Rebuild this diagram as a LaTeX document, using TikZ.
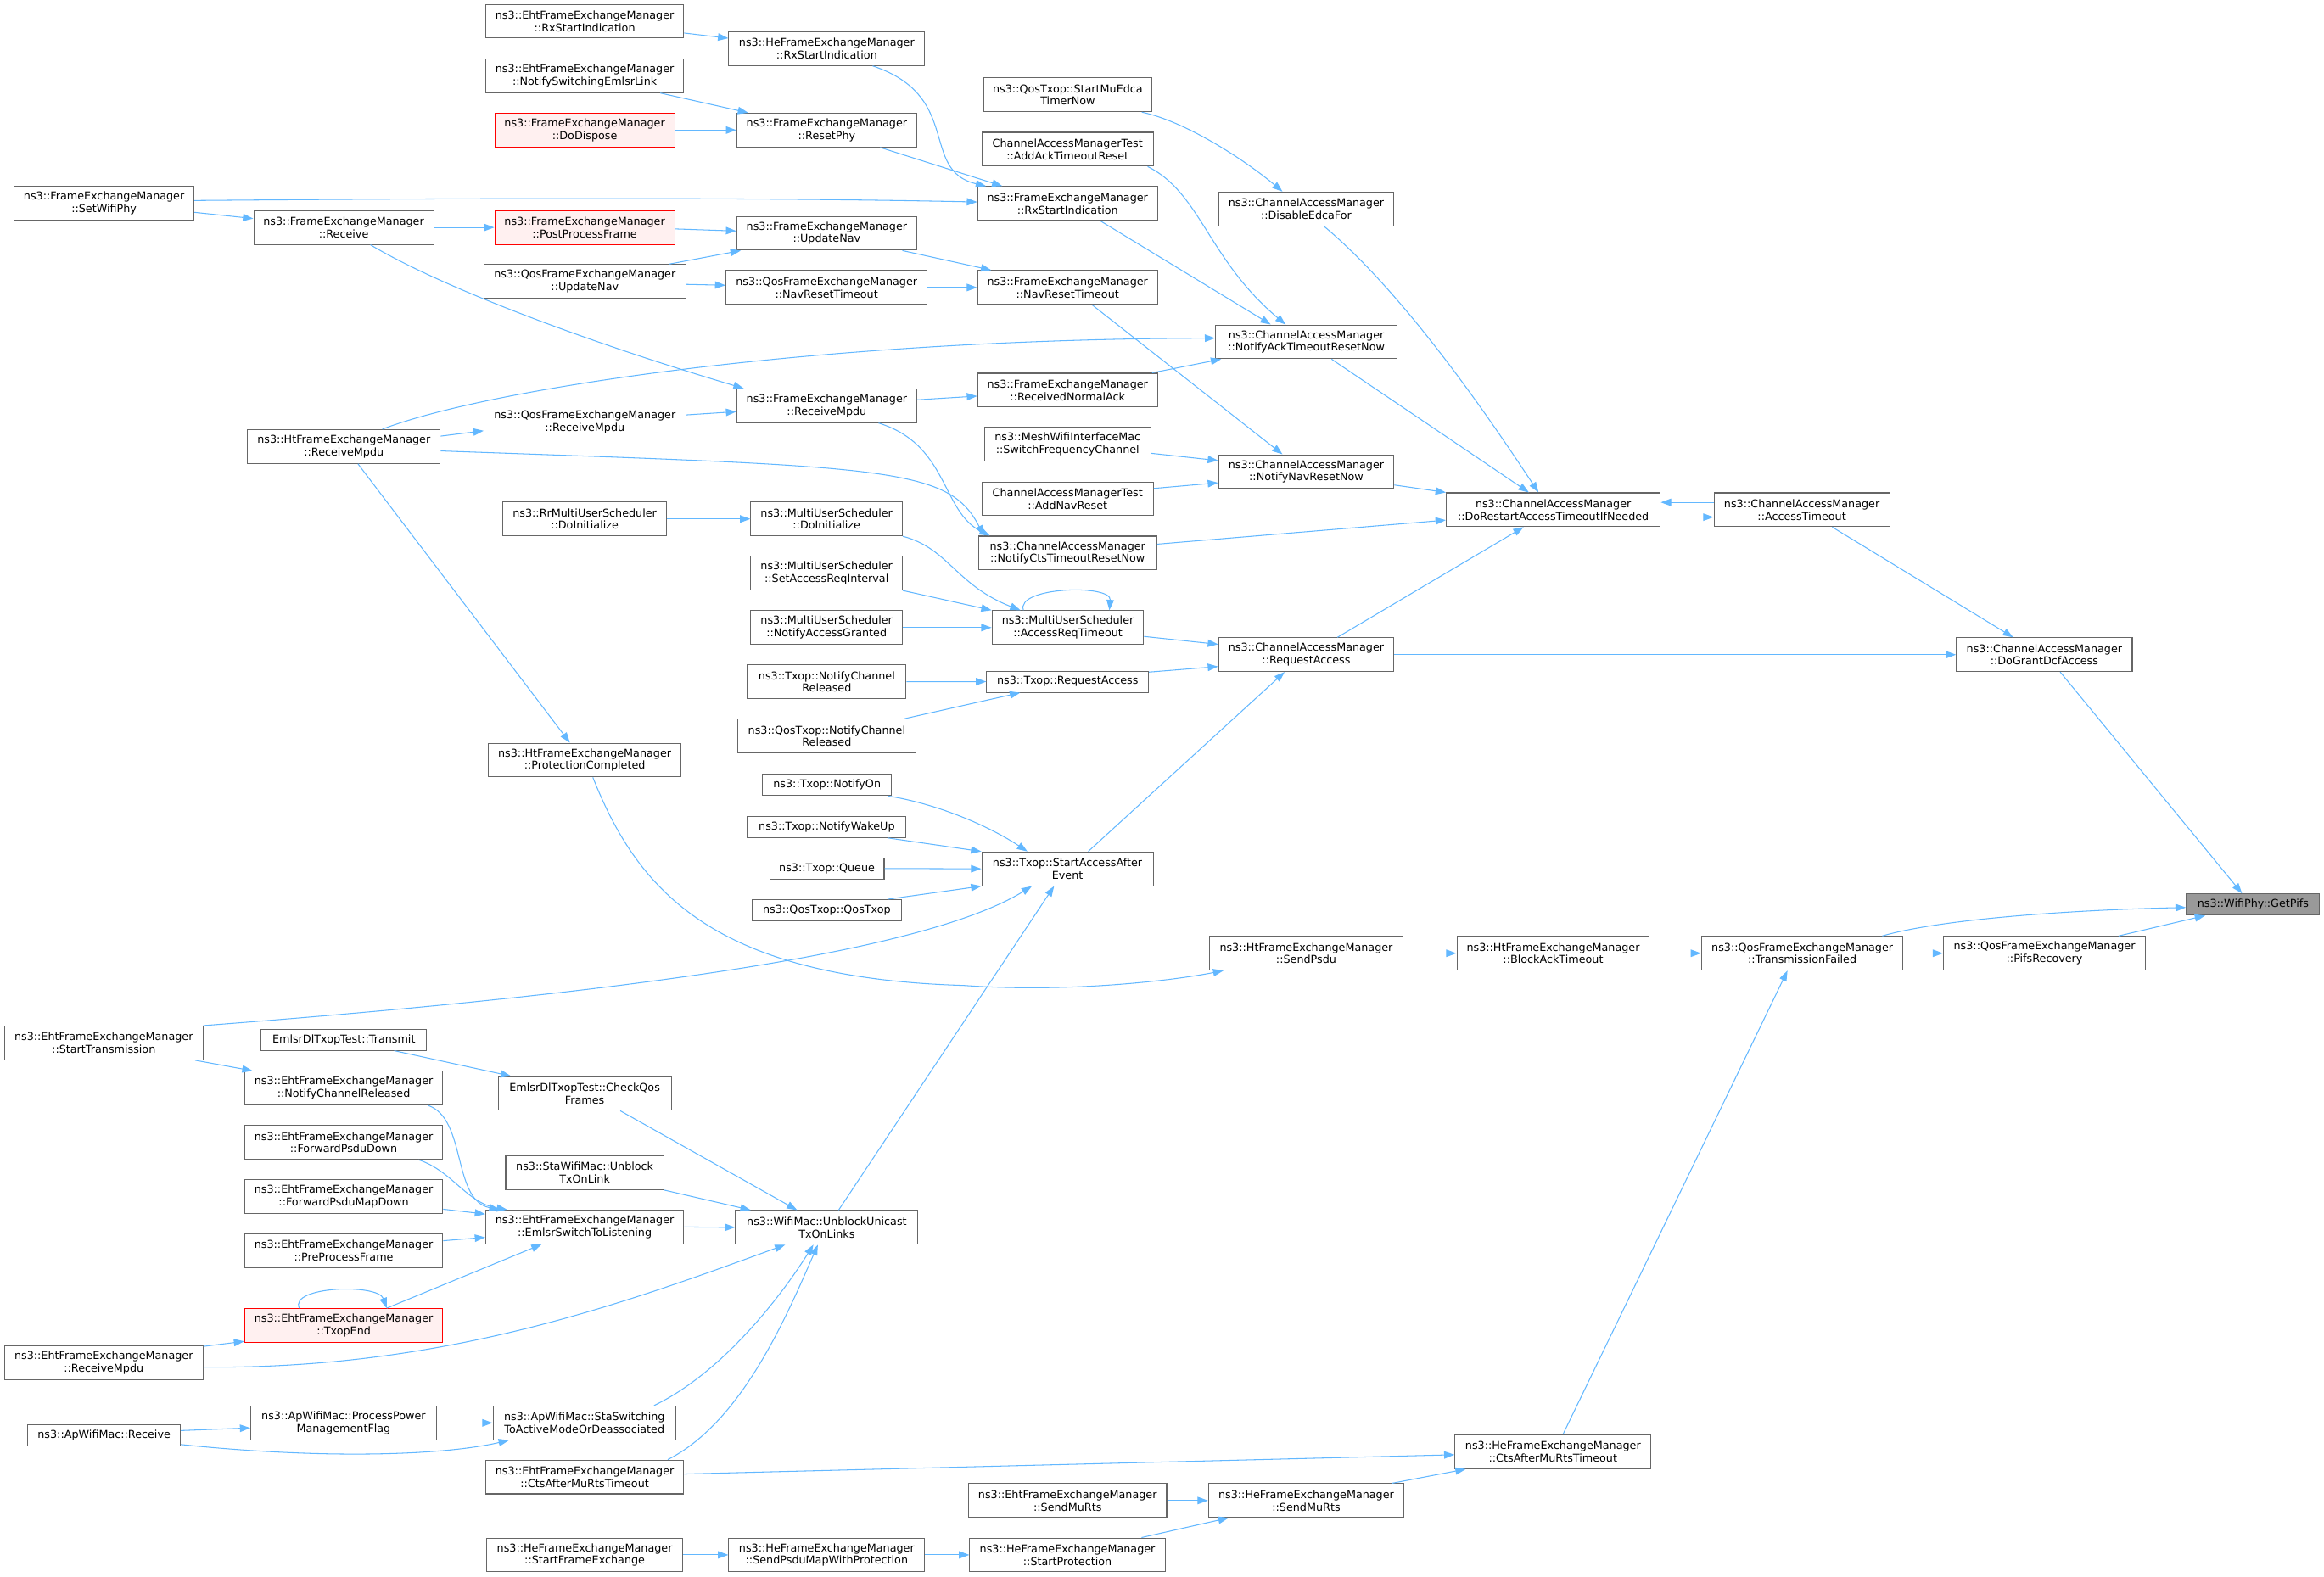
\documentclass[tikz,border=0pt]{standalone}
\usepackage{fontspec}
\setmainfont{DejaVu Sans}
\usepackage{tikz}
\usetikzlibrary{arrows.meta}

\definecolor{edgeblue}{HTML}{63B8FF}
\definecolor{boxgrey}{HTML}{666666}
\definecolor{redfill}{HTML}{FFF0F0}
\definecolor{rootfill}{HTML}{999999}

\begin{document}
\begin{tikzpicture}[
    x=1pt, y=-1pt,
    >={Triangle[length=7pt,width=5pt]},
    funcnode/.style={rectangle, draw=boxgrey, fill=white, line width=0.6pt, inner sep=0pt, minimum height=22.8pt, align=center, font=\fontsize{7.3}{8.5}\selectfont},
    onefunc/.style={funcnode, minimum height=14.3pt},
    redfunc/.style={funcnode, draw=red, fill=redfill},
    rootfunc/.style={onefunc, fill=rootfill},
    call/.style={->, draw=edgeblue, line width=0.6pt}
    ]
    \fill [white] (0,0) rectangle (1568,1064.2);
    \useasboundingbox (0,0) rectangle (1568,1064.2);

    % callers on the far left
    \node [funcnode, minimum width=121.3pt] (setwifiphy) at (70.2,137.3) {ns3::FrameExchangeManager\\::SetWifiPhy};
    \node [funcnode, minimum width=133.9pt] (starttx) at (70,703.8) {ns3::EhtFrameExchangeManager\\::StartTransmission};
    \node [funcnode, minimum width=133.9pt] (ehtrecv) at (70,919.6) {ns3::EhtFrameExchangeManager\\::ReceiveMpdu};
    \node [onefunc, minimum width=102.9pt] (aprecv) at (70.2,968.4) {ns3::ApWifiMac::Receive};

    \node [funcnode, minimum width=121.4pt] (receive) at (231.9,153.5) {ns3::FrameExchangeManager\\::Receive};
    \node [funcnode, minimum width=130.1pt] (htrecv) at (232,301.3) {ns3::HtFrameExchangeManager\\::ReceiveMpdu};
    \node [onefunc, minimum width=111.7pt] (transmit) at (232,701.6) {EmlsrDlTxopTest::Transmit};
    \node [funcnode, minimum width=133.6pt] (ehtchrel) at (231.9,734.3) {ns3::EhtFrameExchangeManager\\::NotifyChannelReleased};
    \node [funcnode, minimum width=133.6pt] (fwdpsdu) at (231.9,771) {ns3::EhtFrameExchangeManager\\::ForwardPsduDown};
    \node [funcnode, minimum width=133.6pt] (fwdpsdumap) at (231.9,807.6) {ns3::EhtFrameExchangeManager\\::ForwardPsduMapDown};
    \node [funcnode, minimum width=133.6pt] (preproc) at (231.9,844.1) {ns3::EhtFrameExchangeManager\\::PreProcessFrame};
    \node [redfunc, minimum width=133.6pt] (txopend) at (231.9,894.5) {ns3::EhtFrameExchangeManager\\::TxopEnd};
    \node [funcnode, minimum width=125.2pt] (procpower) at (231.8,960.2) {ns3::ApWifiMac::ProcessPower\\ManagementFlag};

    \node [funcnode, minimum width=133.7pt] (ehtrxstart) at (394.5,14.3) {ns3::EhtFrameExchangeManager\\::RxStartIndication};
    \node [funcnode, minimum width=133.7pt] (switchemlsr) at (394.5,51.1) {ns3::EhtFrameExchangeManager\\::NotifySwitchingEmlsrLink};
    \node [redfunc, minimum width=121.4pt] (dodispose) at (394.5,87.8) {ns3::FrameExchangeManager\\::DoDispose};
    \node [redfunc, minimum width=121.4pt] (postproc) at (394.5,153.5) {ns3::FrameExchangeManager\\::PostProcessFrame};
    \node [funcnode, minimum width=136pt] (qosupdnav) at (394.6,189.9) {ns3::QosFrameExchangeManager\\::UpdateNav};
    \node [funcnode, minimum width=136pt] (qosrecv) at (394.6,284.7) {ns3::QosFrameExchangeManager\\::ReceiveMpdu};
    \node [funcnode, minimum width=110.7pt] (rrdoinit) at (394.5,350.2) {ns3::RrMultiUserScheduler\\::DoInitialize};
    \node [funcnode, minimum width=129.6pt] (protcompl) at (394.5,512.9) {ns3::HtFrameExchangeManager\\::ProtectionCompleted};
    \node [funcnode, minimum width=116.8pt] (checkqos) at (394.5,737.9) {EmlsrDlTxopTest::CheckQos\\Frames};
    \node [funcnode, minimum width=106.6pt] (staunblock) at (394.5,791.4) {ns3::StaWifiMac::Unblock\\TxOnLink};
    \node [funcnode, minimum width=133.7pt] (emlsrswitch) at (394.5,828) {ns3::EhtFrameExchangeManager\\::EmlsrSwitchToListening};
    \node [funcnode, minimum width=123.2pt] (staswitch) at (394.3,960.2) {ns3::ApWifiMac::StaSwitching\\ToActiveModeOrDeassociated};
    \node [funcnode, minimum width=133.7pt] (ehtctsmurts) at (394.5,996.7) {ns3::EhtFrameExchangeManager\\::CtsAfterMuRtsTimeout};
    \node [funcnode, minimum width=132.1pt] (startfe) at (394.5,1049.3) {ns3::HeFrameExchangeManager\\::StartFrameExchange};

    \node [funcnode, minimum width=132.2pt] (herxstart) at (557.8,32.8) {ns3::HeFrameExchangeManager\\::RxStartIndication};
    \node [funcnode, minimum width=121.4pt] (resetphy) at (557.8,87.8) {ns3::FrameExchangeManager\\::ResetPhy};
    \node [funcnode, minimum width=121.4pt] (updnav) at (557.8,157.4) {ns3::FrameExchangeManager\\::UpdateNav};
    \node [funcnode, minimum width=135.9pt] (qosnavreset) at (557.7,194) {ns3::QosFrameExchangeManager\\::NavResetTimeout};
    \node [funcnode, minimum width=121.4pt] (recvmpdu) at (557.8,273.8) {ns3::FrameExchangeManager\\::ReceiveMpdu};
    \node [funcnode, minimum width=102.2pt] (musdoinit) at (557.7,350.2) {ns3::MultiUserScheduler\\::DoInitialize};
    \node [funcnode, minimum width=102.2pt] (setaccreq) at (557.7,386.8) {ns3::MultiUserScheduler\\::SetAccessReqInterval};
    \node [funcnode, minimum width=102.2pt] (notifyaccgr) at (557.7,423.5) {ns3::MultiUserScheduler\\::NotifyAccessGranted};
    \node [funcnode, minimum width=107pt] (txopchrel) at (557.8,460.1) {ns3::Txop::NotifyChannel\\Released};
    \node [funcnode, minimum width=120.4pt] (qostxopchrel) at (557.8,496.8) {ns3::QosTxop::NotifyChannel\\Released};
    \node [onefunc, minimum width=86.9pt] (notifyon) at (558,529.7) {ns3::Txop::NotifyOn};
    \node [onefunc, minimum width=107pt] (notifywake) at (557.8,558) {ns3::Txop::NotifyWakeUp};
    \node [onefunc, minimum width=77.2pt] (queue) at (557.9,586.1) {ns3::Txop::Queue};
    \node [onefunc, minimum width=100.4pt] (qostxop) at (557.8,614.3) {ns3::QosTxop::QosTxop};
    \node [funcnode, minimum width=123pt] (unblockuni) at (557.8,828.3) {ns3::WifiMac::UnblockUnicast\\TxOnLinks};
    \node [funcnode, minimum width=132.2pt] (sendpsdumap) at (557.8,1049.3) {ns3::HeFrameExchangeManager\\::SendPsduMapWithProtection};

    \node [funcnode, minimum width=113.7pt] (muedca) at (720.4,64) {ns3::QosTxop::StartMuEdca\\TimerNow};
    \node [funcnode, minimum width=115.8pt] (addack) at (720.3,100.7) {ChannelAccessManagerTest\\::AddAckTimeoutReset};
    \node [funcnode, minimum width=121.4pt] (rxstart) at (720.3,137.3) {ns3::FrameExchangeManager\\::RxStartIndication};
    \node [funcnode, minimum width=121.4pt] (navreset) at (720.3,194) {ns3::FrameExchangeManager\\::NavResetTimeout};
    \node [funcnode, minimum width=121.4pt] (recvnormack) at (720.3,263.3) {ns3::FrameExchangeManager\\::ReceivedNormalAck};
    \node [funcnode, minimum width=112.2pt] (switchfreq) at (720.3,299.9) {ns3::MeshWifiInterfaceMac\\::SwitchFrequencyChannel};
    \node [funcnode, minimum width=115.8pt] (addnavreset) at (720.3,336.6) {ChannelAccessManagerTest\\::AddNavReset};
    \node [funcnode, minimum width=120.4pt] (ctsreset) at (720.3,373.2) {ns3::ChannelAccessManager\\::NotifyCtsTimeoutResetNow};
    \node [funcnode, minimum width=102.3pt] (accreqto) at (720.5,423.5) {ns3::MultiUserScheduler\\::AccessReqTimeout};
    \node [onefunc, minimum width=109.1pt] (txopreqacc) at (720.3,460) {ns3::Txop::RequestAccess};
    \node [funcnode, minimum width=115.6pt] (startacc) at (720.2,586.3) {ns3::Txop::StartAccessAfter\\Event};
    \node [funcnode, minimum width=133.7pt] (ehtsendmurts) at (720.3,1012.6) {ns3::EhtFrameExchangeManager\\::SendMuRts};
    \node [funcnode, minimum width=131.8pt] (startprot) at (720.2,1049.3) {ns3::HeFrameExchangeManager\\::StartProtection};

    \node [funcnode, minimum width=118.3pt] (disableedca) at (881.3,141) {ns3::ChannelAccessManager\\::DisableEdcaFor};
    \node [funcnode, minimum width=122.4pt] (ackreset) at (881.4,230.7) {ns3::ChannelAccessManager\\::NotifyAckTimeoutResetNow};
    \node [funcnode, minimum width=118.3pt] (navresetnow) at (881.3,318.3) {ns3::ChannelAccessManager\\::NotifyNavResetNow};
    \node [funcnode, minimum width=118.3pt] (camreqacc) at (881.3,441.8) {ns3::ChannelAccessManager\\::RequestAccess};
    \node [funcnode, minimum width=130.1pt] (sendpsdu) at (881.3,643.3) {ns3::HtFrameExchangeManager\\::SendPsdu};
    \node [funcnode, minimum width=132.1pt] (hesendmurts) at (881.3,1012.6) {ns3::HeFrameExchangeManager\\::SendMuRts};

    \node [funcnode, minimum width=144.4pt] (dorestart) at (1048,344) {ns3::ChannelAccessManager\\::DoRestartAccessTimeoutIfNeeded};
    \node [funcnode, minimum width=129.8pt] (blockack) at (1047.9,643.3) {ns3::HtFrameExchangeManager\\::BlockAckTimeout};
    \node [funcnode, minimum width=132.3pt] (hectsmurts) at (1047.8,979.7) {ns3::HeFrameExchangeManager\\::CtsAfterMuRtsTimeout};

    \node [funcnode, minimum width=118.5pt] (accto) at (1215.7,344) {ns3::ChannelAccessManager\\::AccessTimeout};
    \node [funcnode, minimum width=136pt] (txfailed) at (1216,643.3) {ns3::QosFrameExchangeManager\\::TransmissionFailed};
    \node [funcnode, minimum width=118.6pt] (dogrant) at (1379.3,441.8) {ns3::ChannelAccessManager\\::DoGrantDcfAccess};
    \node [funcnode, minimum width=136.2pt] (pifsrec) at (1379.4,643.3) {ns3::QosFrameExchangeManager\\::PifsRecovery};

    % the function itself
    \node [rootfunc, minimum width=90pt] (getpifs) at (1520.1,610.4) {ns3::WifiPhy::GetPifs};

    % calls, upper part
    \draw [call] ([yshift=-8pt]ehtrxstart.east) -- ([yshift=7pt]herxstart.west);
    \draw [call] ([xshift=31pt]herxstart.south) .. controls (650,65) and (620,115) .. ([xshift=6pt]rxstart.north west);
    \draw [call] ([xshift=51pt]switchemlsr.south) -- ([xshift=8pt]resetphy.north west);
    \draw [call] (dodispose.east) -- (resetphy.west);
    \draw [call] ([xshift=36pt]resetphy.south) -- ([xshift=17pt]rxstart.north west);
    \draw [call] ([yshift=2pt]setwifiphy.east) .. controls (400,133) and (550,134) .. ([yshift=1pt]rxstart.west);
    \draw [call] ([yshift=-6pt]setwifiphy.east) -- ([yshift=6pt]receive.west);
    \draw [call] (receive.east) -- (postproc.west);
    \draw [call] ([xshift=18pt]receive.south) .. controls (300,195) and (400,232) .. ([xshift=5pt]recvmpdu.north west);
    \draw [call] ([yshift=-1pt]postproc.east) -- ([yshift=1.5pt]updnav.west);
    \draw [call] ([xshift=57pt]qosupdnav.north) -- ([xshift=3pt]updnav.south west);
    \draw [call] ([yshift=-2pt]qosupdnav.east) -- ([yshift=1.5pt]qosnavreset.west);
    \draw [call] ([xshift=51pt]updnav.south) -- ([xshift=9.5pt]navreset.north west);
    \draw [call] (qosnavreset.east) -- (navreset.west);
    \draw [call] ([xshift=50pt]muedca.south) .. controls (800,82) and (840,108) .. ([xshift=-16pt]disableedca.north);
    \draw [call] ([xshift=54pt]addack.south) .. controls (810,130) and (815,175) .. ([xshift=-14pt]ackreset.north);
    \draw [call] ([xshift=22pt]rxstart.south) -- ([xshift=-24pt]ackreset.north);
    \draw [call] ([xshift=26pt]htrecv.north) .. controls (330,262) and (550,229) .. ([yshift=2.5pt]ackreset.west);
    \draw [call] ([xshift=57pt]recvnormack.north) -- ([xshift=4pt]ackreset.south west);
    \draw [call] ([yshift=4pt]recvmpdu.east) -- ([yshift=-4pt]recvnormack.west);
    \draw [call] ([yshift=4.7pt]qosrecv.east) -- ([yshift=-4pt]recvmpdu.west);
    \draw [call] ([yshift=7pt]htrecv.east) -- ([yshift=-6pt]qosrecv.west);
    \draw [call] ([yshift=-3pt]htrecv.east) .. controls (600,315) and (640,315) .. ([xshift=4pt]ctsreset.north west);
    \draw [call] ([xshift=35pt]recvmpdu.south) .. controls (640,300) and (635,345) .. ([xshift=8pt]ctsreset.north west);
    \draw [call] ([xshift=9.5pt]htrecv.south) -- ([xshift=-10pt]protcompl.north);
    \draw [call] ([xshift=16.5pt]navreset.south) -- ([xshift=-16pt]navresetnow.north);
    \draw [call] ([yshift=-6pt]switchfreq.east) -- ([yshift=7.5pt]navresetnow.west);
    \draw [call] ([yshift=7pt]addnavreset.east) -- ([yshift=-7.5pt]navresetnow.west);

    % scheduler and txop
    \draw [call] (rrdoinit.east) -- (musdoinit.west);
    \draw [call] (musdoinit.south east) .. controls (640,370) and (645,395) .. ([xshift=-32pt]accreqto.north);
    \draw [call] (setaccreq.south east) -- (accreqto.north west);
    \draw [call] (notifyaccgr.east) -- (accreqto.west);
    \draw [call] ([xshift=-30pt]accreqto.north) .. controls (685,396) and (750,394) .. ([xshift=28pt]accreqto.north);
    \draw [call] ([yshift=-6pt]accreqto.east) -- ([yshift=7pt]camreqacc.west);
    \draw [call] (txopchrel.east) -- (txopreqacc.west);
    \draw [call] ([xshift=52pt]qostxopchrel.north) -- ([xshift=-32pt]txopreqacc.south);
    \draw [call] ([yshift=-1pt]txopreqacc.north east) -- ([yshift=-8pt]camreqacc.west);
    \draw [call] ([xshift=14pt]startacc.north) -- ([xshift=-14.6pt]camreqacc.south);

    % channel access manager
    \draw [call] ([xshift=21pt]camreqacc.north) -- ([xshift=-20pt]dorestart.south);
    \draw [call] (camreqacc.east) -- (dogrant.west);
    \draw [call] ([xshift=12pt]disableedca.south) .. controls (950,200) and (1010,290) .. ([xshift=-10pt]dorestart.north);
    \draw [call] ([xshift=17pt]ackreset.south) -- ([xshift=-16.5pt]dorestart.north);
    \draw [call] ([yshift=-9pt]navresetnow.east) -- (dorestart.north west);
    \draw [call] ([yshift=6pt]ctsreset.east) -- ([yshift=-7pt]dorestart.west);
    \draw [call] ([yshift=-5pt]dorestart.east) -- ([yshift=-5pt]accto.west);
    \draw [call] ([yshift=5pt]accto.west) -- ([yshift=5pt]dorestart.east);
    \draw [call] ([xshift=20.5pt]accto.south) -- ([xshift=-21pt]dogrant.north);
    \draw [call] ([xshift=10.7pt]dogrant.south) -- ([xshift=-7.4pt]getpifs.north);

    % start access after event
    \draw [call] ([xshift=41pt]notifyon.south) .. controls (630,542) and (665,556) .. ([xshift=-27pt]startacc.north);
    \draw [call] ([xshift=41pt]notifywake.south) -- (startacc.north west);
    \draw [call] (queue.east) -- (startacc.west);
    \draw [call] ([xshift=41pt]qostxop.north) -- (startacc.south west);
    \draw [call] (starttx.north east) .. controls (400,672) and (620,645) .. ([xshift=-24pt]startacc.south);
    \draw [call] ([xshift=5.5pt]protcompl.south) .. controls (430,600) and (480,660) .. (650,665) .. controls (720,670) and (790,662) .. ([xshift=9.5pt]sendpsdu.south west);

    % lower part
    \draw [call] ([xshift=24pt]checkqos.south) -- ([xshift=-20pt]unblockuni.north);
    \draw [call] (staunblock.south east) -- ([xshift=10.5pt]unblockuni.north west);
    \draw [call] (emlsrswitch.east) -- (unblockuni.west);
    \draw [call] ([yshift=-3pt]ehtrecv.east) .. controls (300,924) and (420,880) .. ([xshift=-28pt]unblockuni.south);
    \draw [call] ([xshift=47pt]staswitch.north) .. controls (490,925) and (530,870) .. ([xshift=-9pt]unblockuni.south);
    \draw [call] ([xshift=56pt]ehtctsmurts.north) .. controls (500,960) and (530,890) .. ([xshift=-6pt]unblockuni.south);
    \draw [call] ([xshift=8pt]unblockuni.north) -- ([xshift=-9pt]startacc.south);
    \draw [call] ([yshift=2pt]ehtctsmurts.east) -- ([yshift=-2pt]hectsmurts.west);
    \draw [call] (startfe.east) -- (sendpsdumap.west);
    \draw [call] (sendpsdumap.east) -- (startprot.west);
    \draw [call] ([xshift=50pt]startprot.north) -- ([xshift=14pt]hesendmurts.south west);
    \draw [call] (ehtsendmurts.east) -- (hesendmurts.west);
    \draw [call] ([xshift=58pt]hesendmurts.north) -- ([xshift=7.6pt]hectsmurts.south west);
    \draw [call] ([xshift=6.7pt]hectsmurts.north) -- ([xshift=-10pt]txfailed.south);
    \draw [call] (sendpsdu.east) -- (blockack.west);
    \draw [call] (blockack.east) -- (txfailed.west);
    \draw [call] (txfailed.east) -- (pifsrec.west);
    \draw [call] ([xshift=54pt]txfailed.north) .. controls (1310,620) and (1400,614) .. ([yshift=-2pt]getpifs.west);
    \draw [call] ([xshift=50pt]pifsrec.north) -- ([xshift=13pt]getpifs.south west);

    % emlsr and ap mac
    \draw [call] ([xshift=61.6pt]starttx.south) -- ([xshift=5.6pt]ehtchrel.north west);
    \draw [call] ([xshift=34pt]transmit.south) -- ([xshift=9pt]checkqos.north west);
    \draw [call] ([xshift=57pt]ehtchrel.south) .. controls (315,755) and (305,810) .. ([xshift=9.7pt]emlsrswitch.north west);
    \draw [call] ([xshift=50.5pt]fwdpsdu.south) .. controls (305,790) and (315,812) .. ([xshift=14.8pt]emlsrswitch.north west);
    \draw [call] ([yshift=-8.4pt]fwdpsdumap.east) -- ([yshift=8.7pt]emlsrswitch.west);
    \draw [call] ([yshift=6.8pt]preproc.east) -- ([yshift=-7pt]emlsrswitch.west);
    \draw [call] ([xshift=29pt]txopend.north) -- ([xshift=-29pt]emlsrswitch.south);
    \draw [call] ([xshift=-30pt]txopend.north) .. controls (195,868) and (255,866) .. ([xshift=29pt]txopend.north);
    \draw [call] ([yshift=-0.7pt]ehtrecv.north east) -- ([yshift=-10.7pt]txopend.west);
    \draw [call] ([yshift=3pt]aprecv.east) -- ([yshift=-3.4pt]procpower.west);
    \draw [call] (procpower.east) -- (staswitch.west);
    \draw [call] ([yshift=-6.4pt]aprecv.east) .. controls (220,985) and (300,982) .. ([xshift=11pt]staswitch.south west);
  \end{tikzpicture}
\end{document}
